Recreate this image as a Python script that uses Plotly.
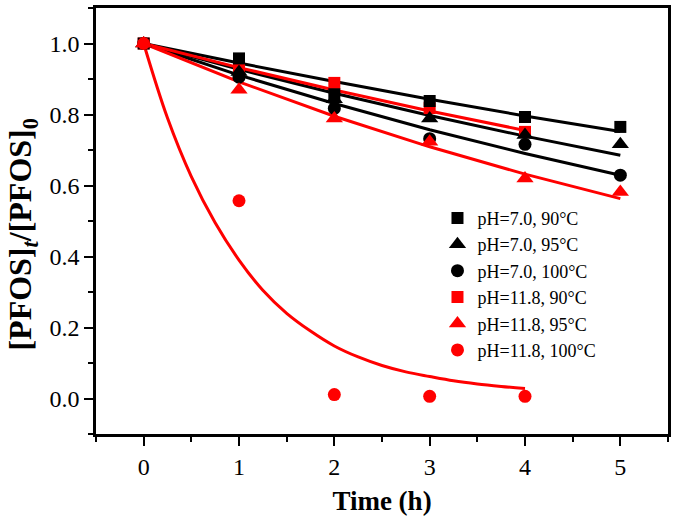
import plotly.graph_objects as go

# ---------------- data ----------------
time5 = [0, 1, 2, 3, 4, 5]
time4 = [0, 1, 2, 3, 4]

ph7_90 = [1.0, 0.958, 0.857, 0.838, 0.793, 0.765]
ph7_95 = [1.0, 0.920, 0.843, 0.789, 0.742, 0.716]
ph7_100 = [1.0, 0.905, 0.817, 0.732, 0.716, 0.629]
ph118_90 = [1.0, 0.930, 0.889, 0.818, 0.751]
ph118_95 = [1.0, 0.870, 0.789, 0.723, 0.620, 0.582]
ph118_100 = [1.0, 0.557, 0.011, 0.006, 0.006]

# fitted curves
fit7_90 = [1.0, 0.945, 0.893, 0.843, 0.796, 0.752]
fit7_95 = [1.0, 0.927, 0.860, 0.797, 0.739, 0.685]
fit7_100 = [1.0, 0.911, 0.831, 0.757, 0.690, 0.629]
fit118_90 = [1.0, 0.932, 0.869, 0.810, 0.755]
fit118_95 = [1.0, 0.892, 0.795, 0.709, 0.632, 0.563]
fit_time_100 = [0, 0.25, 0.5, 0.75, 1.0, 1.25, 1.5, 1.75, 2.0, 2.25, 2.5,
                2.75, 3.0, 3.25, 3.5, 3.75, 4.0]
fit118_100 = [1.0, 0.79, 0.625, 0.495, 0.39, 0.305, 0.24, 0.19, 0.148, 0.117,
              0.093, 0.075, 0.062, 0.05, 0.041, 0.034, 0.028]

labels = ["pH=7.0, 90°C", "pH=7.0, 95°C", "pH=7.0, 100°C",
          "pH=11.8, 90°C", "pH=11.8, 95°C", "pH=11.8, 100°C"]
x_ticks = [0, 1, 2, 3, 4, 5]
y_ticks = [0, 0.2, 0.4, 0.6, 0.8, 1.0]

BLACK = "#000000"
RED = "#FF0000"
FONT = "Liberation Serif"

fig = go.Figure()

# fit lines
fits = [
    (time5, fit7_90, BLACK, "linear"),
    (time5, fit7_95, BLACK, "linear"),
    (time5, fit7_100, BLACK, "linear"),
    (time4, fit118_90, RED, "linear"),
    (time5, fit118_95, RED, "linear"),
    (fit_time_100, fit118_100, RED, "spline"),
]
for xs, ys, c, shp in fits:
    fig.add_trace(go.Scatter(x=xs, y=ys, mode="lines", showlegend=False,
                             line=dict(color=c, width=3, shape=shp),
                             hoverinfo="skip"))

# markers: (x, y, colour, symbol, size, label, legend rank)
series = [
    (time4, ph118_90, RED, "square", 12, labels[3], 4),
    (time5, ph7_90, BLACK, "square", 12, labels[0], 1),
    (time5, ph7_95, BLACK, "triangle-up", 15, labels[1], 2),
    (time5, ph7_100, BLACK, "circle", 13, labels[2], 3),
    (time5, ph118_95, RED, "triangle-up", 15, labels[4], 5),
    (time4, ph118_100, RED, "circle", 13, labels[5], 6),
]
for xs, ys, c, sym, sz, name, rank in series:
    fig.add_trace(go.Scatter(x=xs, y=ys, mode="markers", name=name,
                             legendrank=rank,
                             marker=dict(color=c, symbol=sym, size=sz,
                                         line=dict(width=0))))

axis_common = dict(
    showgrid=False, zeroline=False, automargin=False,
    showline=True, linecolor="black", linewidth=2.5, mirror=True,
    ticks="outside", ticklen=9, tickwidth=2, tickcolor="black",
    tickfont=dict(family=FONT, size=24, color="black"),
)

fig.update_layout(
    width=677, height=516,
    margin=dict(l=96, r=9, t=8, b=82),
    paper_bgcolor="white", plot_bgcolor="white",
    font=dict(family=FONT, color="black"),
    xaxis=dict(range=[-0.5, 5.5], tickvals=x_ticks,
               minor=dict(dtick=0.5, ticks="outside", ticklen=5,
                          tickwidth=2, tickcolor="black"),
               title=dict(text="<b>Time (h)</b>",
                          font=dict(family=FONT, size=27, color="black"),
                          standoff=14),
               **axis_common),
    yaxis=dict(range=[-0.1, 1.1], tickvals=y_ticks,
               tickformat=".1f",
               minor=dict(dtick=0.1, ticks="outside", ticklen=5,
                          tickwidth=2, tickcolor="black"),
               **axis_common),
    annotations=[dict(
        text="<b>[PFOS]<sub><i>t</i></sub>/[PFOS]<sub>0</sub></b>",
        xref="paper", yref="paper", x=-0.128, y=0.47,
        xanchor="center", yanchor="middle", textangle=-90, showarrow=False,
        font=dict(family=FONT, size=32, color="black"))],
    legend=dict(x=0.597, y=0.55, xanchor="left", yanchor="top",
                bgcolor="rgba(0,0,0,0)", borderwidth=0,
                font=dict(family=FONT, size=18, color="black")),
    showlegend=True,
)

fig.write_html("out.html",
               config={"displayModeBar": False},
               post_script="document.body.style.margin='0px';")
